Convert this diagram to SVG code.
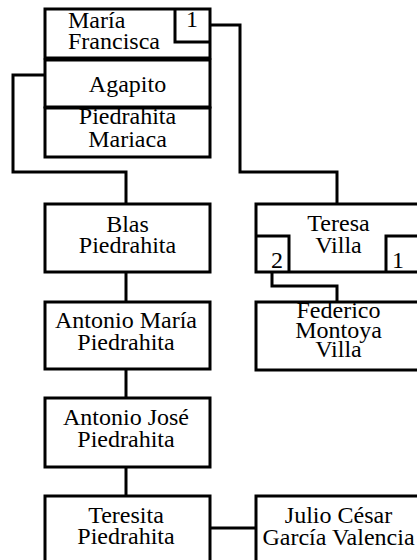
<svg xmlns="http://www.w3.org/2000/svg" width="417" height="560" viewBox="0 0 417 560" font-family="'Liberation Serif', 'Times New Roman', Times, serif" font-size="24">
<style>
.box{fill:#fff;stroke:#000;stroke-width:3}
.ln{fill:none;stroke:#000;stroke-width:3}
.c{text-anchor:middle}
</style>
<rect width="417" height="560" fill="#fff"/>
<g id="connectors">
<path class="ln" d="M45,75 H13 V172 H126 V204"/>
<path class="ln" d="M207,25 H240 V172 H337 V204"/>
<path class="ln" d="M126,272 V302"/>
<path class="ln" d="M126,369 V398"/>
<path class="ln" d="M126,467 V496"/>
<path class="ln" d="M272,266 V286 H337 V302"/>
<path class="ln" d="M208,528 H256"/>
</g>
<g id="maria-francisca">
<rect class="box" x="45" y="9" width="165" height="49"/>
<text x="68" y="28">María</text>
<text x="68" y="49">Francisca</text>
<path class="ln" d="M175,9 V42 H210"/>
<text x="192" y="27" class="c">1</text>
</g>
<g id="agapito">
<rect class="box" x="45" y="60" width="165" height="47"/>
<text x="127.5" y="92" class="c">Agapito</text>
</g>
<g id="piedrahita-mariaca">
<rect class="box" x="45" y="108" width="165" height="49"/>
<text x="127.5" y="124" class="c">Piedrahita</text>
<text x="127.5" y="147" class="c">Mariaca</text>
</g>
<g id="blas">
<rect class="box" x="45" y="204" width="165" height="68"/>
<text x="127.5" y="232" class="c">Blas</text>
<text x="127.5" y="253" class="c">Piedrahita</text>
</g>
<g id="teresa-villa">
<rect class="box" x="256" y="204" width="165" height="68"/>
<text x="338.5" y="231" class="c">Teresa</text>
<text x="338.5" y="253" class="c">Villa</text>
<path class="ln" d="M256,236 H289 V272"/>
<text x="277" y="268" class="c">2</text>
<path class="ln" d="M421,236 H386 V272"/>
<text x="398" y="268" class="c">1</text>
</g>
<g id="federico">
<rect class="box" x="256" y="302" width="165" height="68"/>
<text x="338.5" y="318" class="c">Federico</text>
<text x="338.5" y="338" class="c">Montoya</text>
<text x="338.5" y="357" class="c">Villa</text>
</g>
<g id="antonio-maria">
<rect class="box" x="45" y="302" width="165" height="67"/>
<text x="126" y="328" class="c">Antonio María</text>
<text x="126" y="350" class="c">Piedrahita</text>
</g>
<g id="antonio-jose">
<rect class="box" x="45" y="398" width="165" height="69"/>
<text x="126" y="425" class="c">Antonio José</text>
<text x="126" y="447" class="c">Piedrahita</text>
</g>
<g id="teresita">
<rect class="box" x="45" y="496" width="165" height="70"/>
<text x="126" y="523" class="c">Teresita</text>
<text x="126" y="544" class="c">Piedrahita</text>
</g>
<g id="julio">
<rect class="box" x="256" y="496" width="165" height="70"/>
<text x="338.5" y="523" class="c">Julio César</text>
<text x="338.5" y="545" class="c">García Valencia</text>
</g>
</svg>
